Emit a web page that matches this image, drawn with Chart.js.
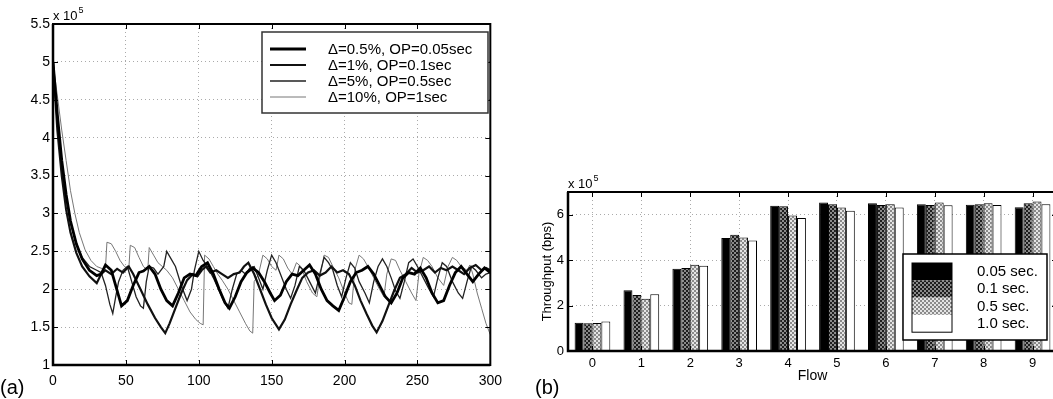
<!DOCTYPE html>
<html>
<head>
<meta charset="utf-8">
<script src="https://cdn.jsdelivr.net/npm/chart.js@4.4.0/dist/chart.umd.min.js"></script>
<style>
  html, body { margin: 0; padding: 0; background: #fff; overflow: hidden; }
  #wrap { position: relative; width: 1053px; height: 399px; overflow: hidden; }
  #chartA { position: absolute; left: 0; top: 0; }
  #chartB { position: absolute; left: 520px; top: 0; }
</style>
</head>
<body>
<div id="wrap">
  <canvas id="chartA" width="510" height="399"></canvas>
  <canvas id="chartB" width="540" height="399"></canvas>
</div>
<script>
// ---- panel (a): rate over time (x 10^5) ----
let seriesNames = ["\u0394=0.5%, OP=0.05sec", "\u0394=1%, OP=0.1sec", "\u0394=5%, OP=0.5sec", "\u0394=10%, OP=1sec"]

let t1 = [0,3,6,9,12,16,20,25,30,33,36,40,44,47,51,55,59,62,66,70,74,78,82,86,90,94,98,102,106,110,114,118,121,125,129,133,137,141,145,149,152,156,160,164,168,172,176,180,184,188,192,196,200,204,208,212,216,220,224,228,232,236,240,244,248,252,256,260,264,268,272,276,280,284,288,292,296,300]
let v1 = [5.0,4.3,3.7,3.25,2.9,2.6,2.4,2.25,2.18,2.2,2.32,2.25,1.98,1.78,1.85,2.05,2.22,2.24,2.3,2.2,2.0,1.85,1.78,1.95,2.15,2.2,2.18,2.3,2.35,2.2,2.0,1.82,1.75,1.9,2.1,2.22,2.28,2.22,2.1,1.95,1.85,1.92,2.1,2.2,2.18,2.25,2.32,2.2,2.0,1.85,1.78,1.72,1.9,2.1,2.22,2.25,2.3,2.2,2.05,1.9,1.82,1.95,2.15,2.22,2.2,2.28,2.15,1.95,1.82,1.85,2.05,2.22,2.3,2.2,2.1,2.2,2.28,2.22]

let t2 = [0,3,6,9,12,16,20,25,30,33,36,40,44,48,52,55,60,65,70,74,77,80,84,88,92,96,99,102,105,108,112,116,120,124,128,131,134,138,142,146,150,155,159,163,167,171,175,179,183,187,191,195,199,203,207,211,215,219,222,226,230,234,238,242,246,250,254,258,262,266,270,274,278,282,286,290,294,297,300]
let v2 = [5.0,4.1,3.5,3.05,2.75,2.48,2.3,2.17,2.08,2.2,2.25,2.2,2.27,2.22,2.3,2.2,2.0,1.8,1.62,1.5,1.42,1.55,1.75,1.95,2.12,2.2,2.17,2.25,2.3,2.22,2.25,2.2,2.15,2.2,2.22,2.3,2.35,2.2,2.0,1.8,1.62,1.47,1.6,1.8,1.98,2.15,2.22,2.25,2.18,2.22,2.3,2.22,2.25,2.2,2.05,1.85,1.68,1.52,1.43,1.58,1.78,1.98,2.15,2.2,2.28,2.22,2.25,2.3,2.22,2.28,2.25,2.3,2.25,2.2,2.28,2.32,2.25,2.28,2.25]

let t3 = [0,3,6,9,12,16,20,25,30,33,36,39,41,43,45,48,51,54,57,60,62,64,66,69,72,76,78,81,84,88,92,95,97,100,103,106,110,114,117,120,123,126,129,132,135,138,141,144,147,150,153,156,160,163,166,169,172,176,180,183,186,189,192,195,198,201,204,207,210,214,217,220,223,226,229,232,235,238,241,244,247,250,254,258,261,264,267,270,274,278,281,284,287,290,294,297,300]
let v3 = [5.0,4.25,3.65,3.2,2.88,2.6,2.42,2.3,2.25,2.22,2.05,1.8,1.68,1.9,2.1,2.25,2.3,2.1,1.9,1.78,1.75,2.1,2.3,2.28,2.2,2.3,2.5,2.4,2.3,2.05,1.85,2.0,2.25,2.5,2.38,2.3,2.15,1.98,1.85,1.75,2.0,2.2,2.25,2.2,2.28,2.3,2.15,2.0,2.25,2.45,2.35,2.2,2.0,1.88,2.05,2.3,2.25,2.1,1.95,2.2,2.42,2.35,2.25,2.05,1.9,2.15,2.35,2.28,2.1,1.95,1.82,2.1,2.3,2.4,2.3,2.15,1.98,1.88,2.1,2.35,2.4,2.3,2.15,2.0,1.9,2.15,2.35,2.3,2.1,1.95,1.88,2.1,2.3,2.25,2.15,2.2,2.22]

let t4 = [0,3,6,9,12,15,18,22,26,30,34,36,37,40,43,46,49,52,53,56,59,62,65,66,69,72,75,78,82,86,90,94,98,101,103,104,107,110,113,116,120,124,128,132,135,137,138,141,144,147,150,153,155,158,161,164,167,170,174,178,181,183,186,189,192,196,200,203,205,207,210,213,216,220,224,227,229,232,235,238,242,246,249,251,254,257,260,264,268,271,274,277,280,284,286,288,291,294,297,300]
let v4 = [5.0,4.55,4.1,3.7,3.3,3.0,2.75,2.52,2.38,2.3,2.27,2.28,2.62,2.6,2.5,2.38,2.3,2.27,2.58,2.55,2.42,2.3,2.25,2.55,2.45,2.35,2.3,2.25,2.15,2.0,1.85,1.7,1.6,1.55,1.53,2.45,2.4,2.3,2.2,2.12,2.0,1.85,1.7,1.55,1.45,1.42,2.1,2.2,2.45,2.4,2.3,2.25,2.45,2.4,2.28,2.2,2.35,2.3,2.1,1.95,1.9,2.15,2.45,2.42,2.3,2.15,1.95,1.82,1.8,2.25,2.45,2.4,2.3,2.15,2.0,1.9,2.2,2.4,2.38,2.25,2.1,1.95,1.85,2.2,2.42,2.38,2.3,2.15,2.05,2.3,2.42,2.38,2.3,2.25,2.32,2.2,1.95,1.75,1.55,1.4]

let xTicksA = [0, 50, 100, 150, 200, 250, 300]
let yTicksA = [1, 1.5, 2, 2.5, 3, 3.5, 4, 4.5, 5, 5.5]

// ---- panel (b): throughput per flow (x 10^5 bps) ----
let flows = ["0","1","2","3","4","5","6","7","8","9"]
let opNames = ["0.05 sec.", "0.1 sec.", "0.5 sec.", "1.0 sec."]
let op005 = [1.24, 2.68, 3.62, 4.97, 6.40, 6.54, 6.51, 6.46, 6.44, 6.33]
let op01  = [1.22, 2.47, 3.65, 5.12, 6.37, 6.46, 6.43, 6.43, 6.46, 6.51]
let op05  = [1.23, 2.30, 3.80, 5.00, 5.96, 6.32, 6.46, 6.54, 6.50, 6.58]
let op10  = [1.30, 2.50, 3.75, 4.87, 5.85, 6.18, 6.32, 6.42, 6.43, 6.46]
let yTicksB = [0, 2, 4, 6]

const FONT = "'Liberation Sans', Arial, Helvetica, sans-serif"
Chart.defaults.font.family = FONT
Chart.defaults.color = "#000"

function pts(xs, ys) {
  return xs.map((x, i) => ({ x: x, y: ys[i] }))
}

function checker(c1, c2) {
  let c = document.createElement("canvas")
  c.width = 4; c.height = 4
  let g = c.getContext("2d")
  g.fillStyle = c1; g.fillRect(0, 0, 4, 4)
  g.fillStyle = c2; g.fillRect(0, 0, 2, 2); g.fillRect(2, 2, 2, 2)
  return g.createPattern(c, "repeat")
}

// frame + inward ticks, matlab style
function frame(chart, xs, ys) {
  let ctx = chart.ctx, a = chart.chartArea
  ctx.save()
  ctx.strokeStyle = "#000"
  ctx.lineWidth = 1
  xs.forEach(v => {
    let p = Math.round(chart.scales.x.getPixelForValue(v)) + 0.5
    ctx.beginPath(); ctx.moveTo(p, a.bottom); ctx.lineTo(p, a.bottom - 5); ctx.stroke()
    ctx.beginPath(); ctx.moveTo(p, a.top); ctx.lineTo(p, a.top + 5); ctx.stroke()
  })
  ys.forEach(v => {
    let p = Math.round(chart.scales.y.getPixelForValue(v)) + 0.5
    ctx.beginPath(); ctx.moveTo(a.left, p); ctx.lineTo(a.left + 5, p); ctx.stroke()
    ctx.beginPath(); ctx.moveTo(a.right, p); ctx.lineTo(a.right - 5, p); ctx.stroke()
  })
  ctx.lineWidth = 2
  ctx.strokeRect(a.left, a.top, a.right - a.left, a.bottom - a.top)
  ctx.lineWidth = 2.5
  ctx.beginPath()
  ctx.moveTo(a.left, a.top); ctx.lineTo(a.left, a.bottom); ctx.lineTo(a.right, a.bottom)
  ctx.stroke()
  ctx.restore()
}

function expLabel(ctx, x, y) {
  ctx.fillStyle = "#000"
  ctx.textAlign = "left"
  ctx.textBaseline = "alphabetic"
  ctx.font = "13px " + FONT
  ctx.fillText("x 10", x, y)
  let w = ctx.measureText("x 10").width
  ctx.font = "9px " + FONT
  ctx.fillText("5", x + w + 1, y - 7)
}

let decorA = {
  id: "decorA",
  afterDraw(chart) {
    let ctx = chart.ctx
    frame(chart, xTicksA, yTicksA)
    ctx.save()
    expLabel(ctx, 53, 20)
    ctx.font = "20px " + FONT
    ctx.fillText("(a)", 0, 394)
    // legend box
    ctx.fillStyle = "#fff"
    ctx.fillRect(262, 32, 226, 81)
    ctx.strokeStyle = "#333"
    ctx.lineWidth = 1.5
    ctx.strokeRect(262, 32, 226, 81)
    let rows = [49, 65, 81, 97]
    chart.data.datasets.forEach((d, i) => {
      ctx.strokeStyle = d.borderColor
      ctx.lineWidth = d.borderWidth
      ctx.beginPath(); ctx.moveTo(270, rows[i]); ctx.lineTo(306, rows[i]); ctx.stroke()
      ctx.fillStyle = "#000"
      ctx.font = "15px " + FONT
      ctx.textBaseline = "middle"
      ctx.fillText(d.label, 328, rows[i] + 1)
    })
    ctx.restore()
  }
}

let decorB = {
  id: "decorB",
  afterDraw(chart) {
    let ctx = chart.ctx
    frame(chart, [0,1,2,3,4,5,6,7,8,9], yTicksB)
    ctx.save()
    expLabel(ctx, 48, 188)
    ctx.font = "20px " + FONT
    ctx.fillText("(b)", 15, 394)
    // legend box
    let L = 383, T = 254
    ctx.fillStyle = "#fff"
    ctx.fillRect(L, T, 144, 86)
    ctx.strokeStyle = "#000"
    ctx.lineWidth = 1.5
    ctx.strokeRect(L, T, 144, 86)
    chart.data.datasets.forEach((d, i) => {
      let y = T + 9 + i * 17.3
      ctx.fillStyle = d.backgroundColor
      ctx.fillRect(L + 9, y, 40, 17.3)
      ctx.fillStyle = "#000"
      ctx.font = "15px " + FONT
      ctx.textBaseline = "middle"
      ctx.fillText(d.label, L + 74, y + 9)
    })
    ctx.strokeStyle = "#000"
    ctx.lineWidth = 1
    ctx.strokeRect(L + 9, T + 9, 40, 17.3 * 4)
    ctx.restore()
  }
}

creaGraficoA()
creaGraficoB()

function creaGraficoA() {
  let cv = document.querySelector("#chartA").getContext("2d")
  let styles = [
    { c: "#000", w: 2.8 },
    { c: "#111", w: 2.2 },
    { c: "#222", w: 1.3 },
    { c: "#777", w: 1 }
  ]
  let data = [pts(t1, v1), pts(t2, v2), pts(t3, v3), pts(t4, v4)]
  new Chart(cv, {
    type: "line",
    data: {
      datasets: data.map((d, i) => ({
        label: seriesNames[i],
        data: d,
        borderColor: styles[i].c,
        borderWidth: styles[i].w,
        pointRadius: 0,
        tension: 0,
        fill: false
      }))
    },
    options: {
      responsive: false,
      animation: false,
      devicePixelRatio: 1,
      layout: { padding: { left: 0, top: 24, right: 10, bottom: 0 } },
      plugins: { legend: { display: false }, tooltip: { enabled: false } },
      scales: {
        x: {
          type: "linear",
          min: 0, max: 300,
          afterBuildTicks: s => { s.ticks = xTicksA.map(v => ({ value: v })) },
          afterFit: s => { s.height = 34 },
          ticks: { font: { size: 14 }, padding: 8, maxRotation: 0, callback: v => String(v) },
          grid: { color: "#aaa", drawTicks: false },
          border: { display: false, dash: [1, 3] }
        },
        y: {
          min: 1, max: 5.5,
          afterBuildTicks: s => { s.ticks = yTicksA.map(v => ({ value: v })) },
          afterFit: s => { s.width = 53 },
          ticks: { font: { size: 14 }, padding: 3, callback: v => String(v) },
          grid: { color: "#aaa", drawTicks: false },
          border: { display: false, dash: [1, 3] }
        }
      }
    },
    plugins: [decorA]
  })
}

function creaGraficoB() {
  let cv = document.querySelector("#chartB").getContext("2d")
  let fills = ["#000", checker("#8a8a8a", "#1e1e1e"), checker("#e4e4e4", "#8a8a8a"), "#fff"]
  let vals = [op005, op01, op05, op10]
  new Chart(cv, {
    type: "bar",
    data: {
      labels: flows,
      datasets: vals.map((v, i) => ({
        label: opNames[i],
        data: v,
        backgroundColor: fills[i],
        borderColor: "#000",
        borderWidth: 1,
        barPercentage: 1,
        categoryPercentage: 0.73
      }))
    },
    options: {
      responsive: false,
      animation: false,
      devicePixelRatio: 1,
      layout: { padding: { left: 20, top: 192, right: 3, bottom: 0 } },
      plugins: { legend: { display: false }, tooltip: { enabled: false } },
      scales: {
        x: {
          afterFit: s => { s.height = 48 },
          ticks: { font: { size: 13 }, padding: 5, maxRotation: 0 },
          grid: { color: "#aaa", drawTicks: false, offset: false },
          border: { display: false, dash: [1, 3] },
          title: { display: true, text: "Flow", font: { size: 14 }, padding: { top: 0, bottom: 14 } }
        },
        y: {
          min: 0, max: 7,
          afterBuildTicks: s => { s.ticks = yTicksB.map(v => ({ value: v })) },
          afterFit: s => { s.width = 28 },
          ticks: { font: { size: 13 }, padding: 4 },
          grid: { color: "#aaa", drawTicks: false },
          border: { display: false, dash: [1, 3] },
          title: { display: true, text: "Throughput (bps)", font: { size: 13 }, padding: 0 }
        }
      }
    },
    plugins: [decorB]
  })
}
</script>
</body>
</html>
